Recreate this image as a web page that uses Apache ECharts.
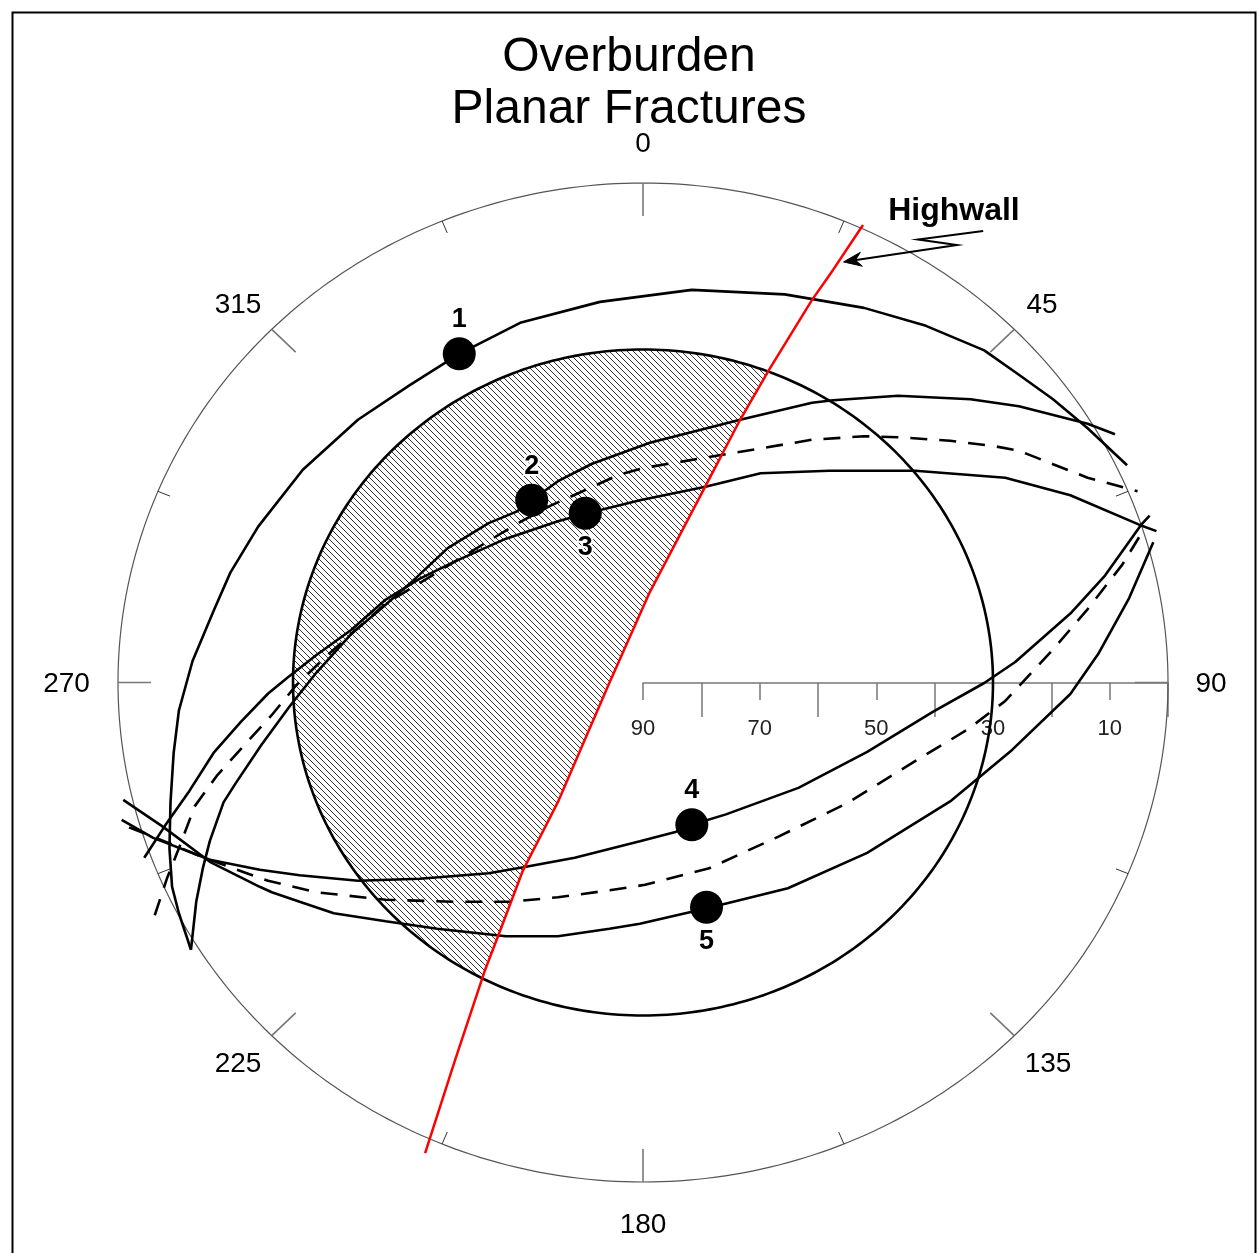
<!DOCTYPE html>
<html><head><meta charset="utf-8">
<script src="https://cdn.jsdelivr.net/npm/echarts@6/dist/echarts.min.js"></script>
<style>html,body{margin:0;padding:0;background:#fff}#chart{width:1258px;height:1253px}</style>
</head><body><div id="chart"></div>
<script>
// ---------------- DATA ----------------
// Projected stereonet positions [east, north] in percent of the primitive radius
// (centre = dip 90, rim = dip 0).
const titleText = 'Overburden\nPlanar Fractures';
const azimuthLabels = [0, 45, 90, 135, 180, 225, 270, 315];
const rimTickAzimuths = [0, 22.5, 45, 67.5, 90, 112.5, 135, 157.5, 180, 202.5, 225, 247.5, 270, 292.5, 315, 337.5];
const dipLabelTicks = [10, 30, 50, 70, 90];
const dipMajorTicks = [0, 20, 40, 60, 80];
const coneDip = 30;

const fracture1 = [[-86.1,-53.5],[-88.4,-46.2],[-89.7,-40.9],[-90.2,-33.2],[-90.0,-24.0],[-89.4,-14.1],[-88.4,-5.6],[-85.8,4.3],[-81.8,14.3],[-78.6,22.0],[-73.3,31.2],[-64.8,42.6],[-54.3,52.6],[-44.5,59.5],[-35.0,65.8],[-23.4,72.0],[-8.2,76.2],[9.3,78.6],[27.0,77.7],[42.1,75.0],[53.9,71.4],[65.0,66.5],[71.6,61.6],[78.1,56.7],[84.7,50.9],[92.2,43.5]];
const fracture2 = [[-86.1,-53.5],[-85.1,-43.9],[-83.8,-37.0],[-82.5,-31.7],[-79.9,-24.0],[-77.6,-20.2],[-72.7,-12.5],[-67.4,-4.9],[-62.2,2.0],[-55.6,9.7],[-50.4,14.3],[-44.5,19.7],[-37.2,26.9],[-29.4,31.9],[-24.1,34.2],[-21.2,36.5],[-16.2,40.3],[-9.7,43.8],[1.3,48.0],[18.5,52.6],[32.2,56.0],[36.2,56.5],[48.6,57.4],[62.4,56.7],[71.6,55.3],[84.7,51.8],[89.9,49.7]];
const fracture3 = [[-95.0,-35.1],[-91.0,-28.6],[-86.4,-21.7],[-81.8,-14.1],[-76.6,-7.9],[-71.4,-2.2],[-67.8,0.9],[-62.2,5.5],[-55.6,10.5],[-49.0,16.6],[-42.5,20.8],[-35.9,24.2],[-26.1,28.8],[-16.2,32.3],[-11.0,33.8],[-0.6,36.5],[11.9,39.2],[22.4,41.9],[35.5,42.4],[51.9,42.4],[69.0,41.0],[81.4,37.5],[94.5,31.6],[97.8,30.3]];
const mean23 = [[-93.0,-46.6],[-90.7,-39.3],[-88.4,-33.2],[-85.4,-24.8],[-81.2,-18.7],[-75.9,-12.5],[-70.7,-6.5],[-66.1,-0.6],[-60.9,4.7],[-55.6,9.7],[-49.0,15.8],[-39.9,21.6],[-34.6,25.0],[-28.7,28.8],[-23.1,32.3],[-17.6,35.4],[-11.7,38.2],[-4.8,41.5],[0.4,43.0],[15.8,45.7],[32.2,48.6],[42.1,49.3],[48.6,49.1],[58.5,48.4],[67.0,47.3],[71.6,46.4],[78.1,43.7],[84.7,41.0],[94.2,38.3]];
const fracture4 = [[-99.3,-27.5],[-93.3,-31.1],[-82.5,-35.5],[-73.0,-37.5],[-65.4,-38.6],[-54.3,-39.7],[-42.5,-39.3],[-29.4,-38.2],[-22.8,-37.0],[-13.0,-35.1],[-0.6,-31.8],[6.0,-30.0],[9.3,-28.5],[15.8,-26.4],[29.6,-21.1],[42.7,-13.9],[55.2,-5.9],[65.0,-0.1],[70.9,4.1],[81.4,13.8],[88.0,21.4],[94.9,31.6],[96.5,33.4]];
const fracture5 = [[-99.0,-23.5],[-91.4,-28.9],[-82.5,-35.9],[-73.0,-40.9],[-70.7,-42.0],[-65.4,-43.9],[-58.9,-46.2],[-49.0,-47.8],[-39.2,-49.3],[-26.1,-50.8],[-16.2,-50.8],[-6.4,-49.3],[-0.6,-48.3],[12.2,-45.2],[27.6,-41.2],[42.7,-34.1],[58.5,-23.8],[70.3,-13.5],[81.4,-2.3],[86.7,5.7],[92.6,16.9],[97.2,28.1]];
const mean45 = [[-97.9,-29.0],[-90.4,-32.1],[-84.5,-34.7],[-78.6,-37.0],[-71.4,-39.7],[-62.2,-42.0],[-49.0,-43.5],[-35.9,-43.9],[-25.4,-43.9],[-16.2,-43.0],[-6.4,-41.6],[0.4,-40.5],[12.6,-37.2],[25.7,-30.9],[38.8,-24.2],[51.9,-15.7],[61.7,-9.5],[69.0,-3.7],[78.1,6.6],[84.7,14.7],[91.3,23.6],[95.2,30.3]];
const highwall = [[41.9,91.6],[36.2,82.6],[32.2,76.6],[24.0,62.6],[18.5,52.6],[11.8,39.1],[1.3,18.1],[-6.5,-0.3],[-16.2,-23.9],[-22.9,-37.7],[-27.4,-50.2],[-30.1,-57.6],[-35.8,-75.6],[-41.5,-94.2]];
const poleNames = ['1', '2', '3', '4', '5'];
const polePositions = [[-35.0,65.8],[-21.2,36.5],[-11.0,33.9],[9.3,-28.5],[12.1,-45.0]];
const poleLabelSides = ['top', 'top', 'bottom', 'top', 'bottom'];
const highwallLabel = 'Highwall';
const highwallLabelAt = [46.7, 94.4];
const highwallArrow = [[64.8,90.4],[52.4,88.7],[59.8,87.6],[38.2,84.2]];

// ---------------- HELPERS ----------------
const FONT = 'Liberation Sans, Arial, Helvetica, sans-serif';
const rad = d => d * Math.PI / 180;
const coneR = (90 - coneDip) / 90 * 100;

function hatchCanvas() {
  const s = 6, c = document.createElement('canvas');
  c.width = s; c.height = s;
  const g = c.getContext('2d');
  g.strokeStyle = '#333'; g.lineWidth = 1;
  g.beginPath();
  g.moveTo(-1, -1); g.lineTo(s + 1, s + 1);
  g.moveTo(-1, s - 1); g.lineTo(1, s + 1);
  g.moveTo(s - 1, -1); g.lineTo(s + 1, 1);
  g.stroke();
  return c;
}
const HATCH = hatchCanvas();

function segCircle(p, q, R) {
  const dx = q[0] - p[0], dy = q[1] - p[1];
  const a = dx * dx + dy * dy, b = 2 * (p[0] * dx + p[1] * dy), c = p[0] * p[0] + p[1] * p[1] - R * R;
  const disc = b * b - 4 * a * c;
  if (disc < 0) return [];
  const s = Math.sqrt(disc);
  return [(-b - s) / (2 * a), (-b + s) / (2 * a)].filter(t => t >= 0 && t <= 1).sort((x, y) => x - y);
}

function hatchRegion(line, R) {
  // part of the highwall trace inside the cone, then the cone arc on the west side
  const pts = [];
  let entry = null, exit = null;
  for (let i = 0; i < line.length - 1; i++) {
    const p = line[i], q = line[i + 1];
    const ts = segCircle(p, q, R);
    const inP = Math.hypot(p[0], p[1]) < R;
    if (inP && entry) pts.push(p);
    for (const t of ts) {
      const pt = [p[0] + t * (q[0] - p[0]), p[1] + t * (q[1] - p[1])];
      if (!entry) { entry = pt; pts.push(pt); }
      else if (!exit) { exit = pt; pts.push(pt); }
    }
    if (exit) break;
  }
  if (!entry || !exit) return [];
  let a2 = Math.atan2(exit[1], exit[0]) * 180 / Math.PI;
  let a1 = Math.atan2(entry[1], entry[0]) * 180 / Math.PI;
  if (a2 < 0) a2 += 360;
  if (a1 < 0) a1 += 360;
  if (a1 > a2) a1 -= 360;
  for (let a = a2 - 1; a > a1; a -= 1) pts.push([R * Math.cos(rad(a)), R * Math.sin(rad(a))]);
  return pts;
}

function ring(api, R) {
  const out = [];
  for (let a = 0; a < 360; a += 1) out.push(api.coord([R * Math.sin(rad(a)), R * Math.cos(rad(a))]));
  return out;
}

function lineSeries(name, data, dashed) {
  return {
    name, type: 'line', data, xAxisIndex: 0, yAxisIndex: 0,
    symbol: 'none', smooth: false, clip: false, z: 4, silent: true,
    lineStyle: { color: '#000', width: 2.6, type: dashed ? [17, 12] : 'solid', cap: 'butt' }
  };
}

const azLabelData = azimuthLabels.map(az => {
  const s = Math.sin(rad(az)), c = Math.cos(rad(az));
  const txt = String(az);
  const r = az % 90 === 0 ? 108.2 : 107.5;
  const extra = (txt.length - 2) * 1.6 * Math.abs(s);
  return { name: txt, value: [r * s + Math.sign(s) * extra, r * c - 0.4] };
});

// ---------------- CHART ----------------
const chart = echarts.init(document.getElementById('chart'), null, { renderer: 'canvas', width: 1258, height: 1253 });

const option = {
  animation: false,
  backgroundColor: '#fff',
  title: {
    text: titleText, left: 'center', top: 27,
    textStyle: { fontSize: 48, fontWeight: 'normal', fontFamily: FONT, color: '#000', lineHeight: 52 }
  },
  graphic: [{
    type: 'rect', left: 10, top: 10, silent: true,
    shape: { width: 1243, height: 1262 },
    style: { fill: 'none', stroke: '#000', lineWidth: 2 }
  }],
  grid: [
    { left: 118, top: 183, width: 1050, height: 999 },
    { left: 643, top: 682, width: 525, height: 1 }
  ],
  xAxis: [
    { gridIndex: 0, type: 'value', min: -100, max: 100, show: false },
    {
      gridIndex: 1, type: 'value', min: 0, max: 90, inverse: true, position: 'bottom',
      axisLine: { show: true, lineStyle: { color: '#777', width: 1.5 } },
      axisTick: { show: true, customValues: dipLabelTicks, length: 17, lineStyle: { color: '#777', width: 1.5 } },
      axisLabel: { show: true, customValues: dipLabelTicks, margin: 35, fontSize: 22, color: '#222', fontFamily: FONT },
      splitLine: { show: false }
    },
    {
      gridIndex: 1, type: 'value', min: 0, max: 90, inverse: true, position: 'bottom',
      axisLine: { show: false },
      axisTick: { show: true, customValues: dipMajorTicks, length: 34, lineStyle: { color: '#777', width: 1.5 } },
      axisLabel: { show: false },
      splitLine: { show: false }
    }
  ],
  yAxis: [
    { gridIndex: 0, type: 'value', min: -100, max: 100, show: false },
    { gridIndex: 1, type: 'value', min: 0, max: 1, show: false }
  ],
  series: [
    {
      name: 'net', type: 'custom', coordinateSystem: 'cartesian2d', xAxisIndex: 0, yAxisIndex: 0,
      data: [[0, 0]], clip: false, silent: true, z: 1,
      renderItem(params, api) {
        const children = [];
        children.push({ type: 'polygon', shape: { points: ring(api, 100) }, style: { fill: 'none', stroke: '#555', lineWidth: 1.2 } });
        const c0 = api.coord([0, 0]);
        rimTickAzimuths.forEach(az => {
          const p = api.coord([100 * Math.sin(rad(az)), 100 * Math.cos(rad(az))]);
          const dx = c0[0] - p[0], dy = c0[1] - p[1], L = Math.hypot(dx, dy);
          const major = az % 45 === 0;
          const len = major ? 33 : 13;
          children.push({
            type: 'line',
            shape: { x1: p[0], y1: p[1], x2: p[0] + dx / L * len, y2: p[1] + dy / L * len },
            style: { stroke: major ? '#777' : '#333', lineWidth: major ? 1.6 : 1 }
          });
        });
        return { type: 'group', children };
      }
    },
    {
      name: 'cone', type: 'custom', coordinateSystem: 'cartesian2d', xAxisIndex: 0, yAxisIndex: 0,
      data: [[0, 0]], clip: false, silent: true, z: 2,
      renderItem(params, api) {
        const hatch = hatchRegion(highwall, coneR).map(p => api.coord(p));
        return {
          type: 'group', children: [
            { type: 'polygon', shape: { points: hatch }, style: { fill: { image: HATCH, repeat: 'repeat' }, stroke: null } },
            { type: 'polygon', shape: { points: ring(api, coneR) }, style: { fill: 'none', stroke: '#000', lineWidth: 2.6 } }
          ]
        };
      }
    },
    lineSeries('Fracture 1', fracture1, false),
    lineSeries('Fracture 2', fracture2, false),
    lineSeries('Fracture 3', fracture3, false),
    lineSeries('Mean 2-3', mean23, true),
    lineSeries('Fracture 4', fracture4, false),
    lineSeries('Fracture 5', fracture5, false),
    lineSeries('Mean 4-5', mean45, true),
    {
      name: 'Highwall', type: 'line', data: highwall, xAxisIndex: 0, yAxisIndex: 0,
      symbol: 'none', clip: false, z: 5, silent: true,
      lineStyle: { color: '#ff0000', width: 2.5 }
    },
    {
      name: 'arrow', type: 'custom', coordinateSystem: 'cartesian2d', xAxisIndex: 0, yAxisIndex: 0,
      data: [[0, 0]], clip: false, silent: true, z: 6,
      renderItem(params, api) {
        const pts = highwallArrow.map(p => api.coord(p));
        const tip = pts[pts.length - 1], prev = pts[pts.length - 2];
        const dx = tip[0] - prev[0], dy = tip[1] - prev[1], L = Math.hypot(dx, dy);
        const ux = dx / L, uy = dy / L, nx = -uy, ny = ux;
        const hl = 18, hw = 7, notch = 12;
        const head = [
          tip,
          [tip[0] - ux * hl + nx * hw, tip[1] - uy * hl + ny * hw],
          [tip[0] - ux * notch, tip[1] - uy * notch],
          [tip[0] - ux * hl - nx * hw, tip[1] - uy * hl - ny * hw]
        ];
        return {
          type: 'group', children: [
            { type: 'polyline', shape: { points: pts.slice(0, -1).concat([[tip[0] - ux * 6, tip[1] - uy * 6]]) }, style: { fill: 'none', stroke: '#000', lineWidth: 2 } },
            { type: 'polygon', shape: { points: head }, style: { fill: '#000', stroke: '#000', lineWidth: 1 } }
          ]
        };
      }
    },
    {
      name: 'labels', type: 'scatter', xAxisIndex: 0, yAxisIndex: 0, silent: true, z: 7, clip: false,
      data: [{ name: highwallLabel, value: highwallLabelAt }],
      symbolSize: 1, itemStyle: { color: 'rgba(0,0,0,0)', opacity: 1 },
      label: { show: true, position: 'inside', align: 'left', verticalAlign: 'middle', formatter: '{b}', fontSize: 32, fontWeight: 'bold', fontFamily: FONT, color: '#000' }
    },
    {
      name: 'azimuth', type: 'scatter', xAxisIndex: 0, yAxisIndex: 0, silent: true, z: 7, clip: false,
      data: azLabelData, symbolSize: 1, itemStyle: { color: 'rgba(0,0,0,0)', opacity: 1 },
      label: { show: true, position: 'inside', formatter: '{b}', fontSize: 28, fontFamily: FONT, color: '#000' }
    },
    {
      name: 'poles', type: 'scatter', xAxisIndex: 0, yAxisIndex: 0, silent: true, z: 8, clip: false,
      symbol: 'circle', symbolSize: 33, itemStyle: { color: '#000', opacity: 1 },
      data: polePositions.map((p, i) => ({
        name: poleNames[i], value: p,
        label: { position: poleLabelSides[i] }
      })),
      label: {
        show: true, formatter: '{b}', distance: 4, fontSize: 27, fontWeight: 'bold', fontFamily: FONT,
        color: '#000', textBorderColor: '#fff', textBorderWidth: 4
      }
    }
  ]
};
chart.setOption(option);
</script>
</body></html>
